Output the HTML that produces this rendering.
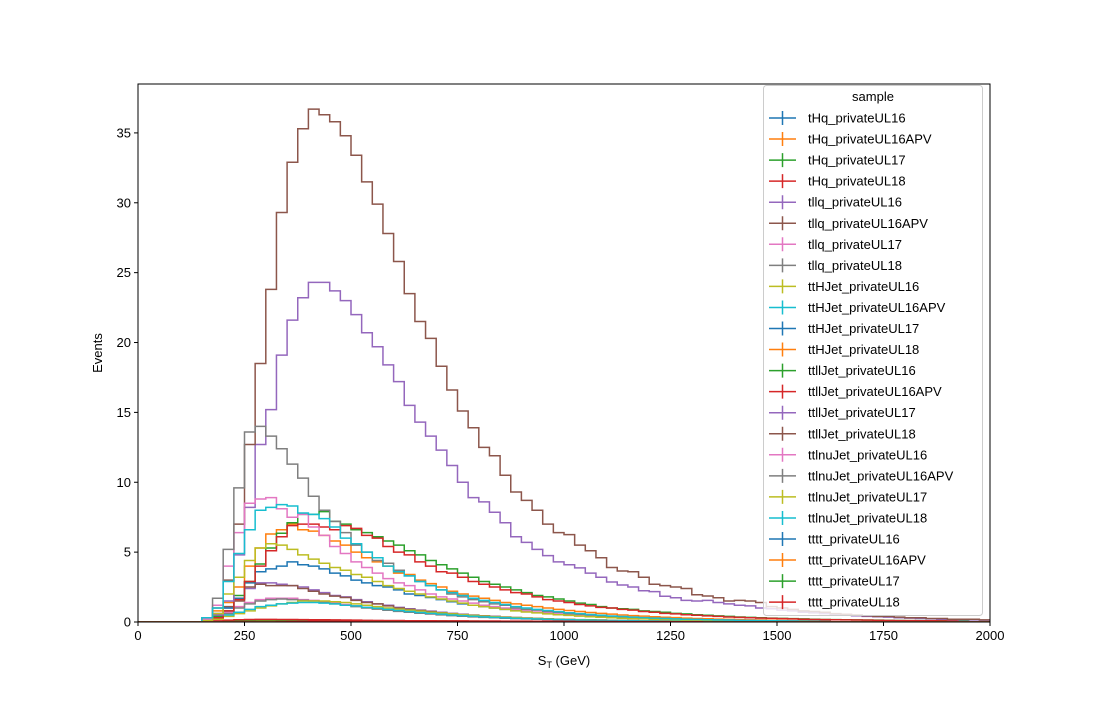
<!DOCTYPE html>
<html><head><meta charset="utf-8"><style>
body{margin:0;background:#fff;}
svg text{font-family:"Liberation Sans","DejaVu Sans",sans-serif;fill:#000;}
</style></head><body>
<svg id="chart" width="1100" height="700" xmlns="http://www.w3.org/2000/svg">
<rect width="1100" height="700" fill="#fff"/>
<defs><clipPath id="plotclip"><rect x="138" y="84" width="852" height="538"/></clipPath></defs>
<g id="series" clip-path="url(#plotclip)"></g>
<rect x="138" y="84" width="852" height="538" fill="none" stroke="#000" stroke-width="1"/>
<g id="xticks"></g><g id="yticks"></g>
<text x="564" y="665" font-size="13" text-anchor="middle">S<tspan font-size="9" dy="3">T</tspan><tspan dy="-3"> (GeV)</tspan></text>
<text x="102" y="353" font-size="13" text-anchor="middle" transform="rotate(-90 102 353)">Events</text>
<g id="legend"></g>
</svg>
<script>
const binEdgesStart = 0, binWidth = 25, nBins = 80;
const xTicks = [0,250,500,750,1000,1250,1500,1750,2000];
const yTicks = [0,5,10,15,20,25,30,35];
const seriesNames = ["tHq_privateUL16","tHq_privateUL16APV","tHq_privateUL17","tHq_privateUL18","tllq_privateUL16","tllq_privateUL16APV","tllq_privateUL17","tllq_privateUL18","ttHJet_privateUL16","ttHJet_privateUL16APV","ttHJet_privateUL17","ttHJet_privateUL18","ttllJet_privateUL16","ttllJet_privateUL16APV","ttllJet_privateUL17","ttllJet_privateUL18","ttlnuJet_privateUL16","ttlnuJet_privateUL16APV","ttlnuJet_privateUL17","ttlnuJet_privateUL18","tttt_privateUL16","tttt_privateUL16APV","tttt_privateUL17","tttt_privateUL18"];
const colors = ['#1f77b4','#ff7f0e','#2ca02c','#d62728','#9467bd','#8c564b','#e377c2','#7f7f7f','#bcbd22','#17becf'];

const tHq_UL16 = [0,0,0,0,0,0,0.02,0.05,0.08,0.1,0.11,0.12,0.12,0.12,0.11,0.11,0.1,0.1,0.09,0.09,0.08,0.08,0.07,0.07,0.06,0.06,0.05,0.05,0.05,0.04,0.04,0.04,0.03,0.03,0.03,0.03,0.02,0.02,0.02,0.02,0.02];
const tHq_UL16APV = [0,0,0,0,0,0,0.02,0.04,0.07,0.09,0.1,0.1,0.11,0.1,0.1,0.1,0.09,0.09,0.08,0.08,0.07,0.07,0.06,0.06,0.05,0.05,0.05,0.04,0.04,0.04,0.03,0.03,0.03,0.03,0.02,0.02,0.02,0.02,0.02];
const tHq_UL17 = [0,0,0,0,0,0,0.03,0.06,0.1,0.12,0.13,0.14,0.14,0.13,0.13,0.12,0.12,0.11,0.1,0.1,0.09,0.09,0.08,0.07,0.07,0.06,0.06,0.05,0.05,0.05,0.04,0.04,0.04,0.03,0.03,0.03,0.02,0.02,0.02,0.02,0.02];
const tHq_UL18 = [0,0,0,0,0,0,0.04,0.08,0.13,0.16,0.18,0.19,0.19,0.18,0.18,0.17,0.16,0.16,0.15,0.14,0.13,0.12,0.11,0.1,0.1,0.09,0.08,0.08,0.07,0.06,0.06,0.05,0.05,0.05,0.04,0.04,0.03,0.03,0.03,0.03,0.02];
const tllq_UL16 = [0,0,0,0,0,0,0.1,0.5,1.0,1.7,2.4,2.8,2.8,2.7,2.6,2.5,2.3,2.1,1.9,1.8,1.6,1.45,1.3,1.2,1.05,0.95,0.85,0.78,0.7,0.62,0.55,0.5,0.45,0.4,0.36,0.32,0.29,0.26,0.23,0.21,0.19,0.17,0.15,0.14,0.12,0.11,0.1,0.09,0.08,0.07,0.07,0.06,0.05,0.05,0.04,0.04];
const tllq_UL16APV = [0,0,0,0,0,0,0.1,0.6,1.1,1.5,2.5,2.7,2.6,2.6,2.6,2.4,2.2,2.0,1.85,1.75,1.55,1.4,1.3,1.15,1.0,0.9,0.82,0.74,0.66,0.6,0.54,0.48,0.43,0.39,0.35,0.31,0.28,0.25,0.22,0.2,0.18,0.16,0.15,0.13,0.12,0.11,0.1,0.09,0.08,0.07,0.06,0.06,0.05,0.05,0.04];
const tllq_UL17 = [0,0,0,0,0,0,0.1,0.4,0.7,1.1,1.4,1.6,1.7,1.7,1.7,1.6,1.55,1.45,1.35,1.25,1.15,1.05,0.95,0.87,0.8,0.72,0.65,0.58,0.52,0.47,0.42,0.38,0.34,0.3,0.27,0.24,0.22,0.2,0.18,0.16,0.14,0.13,0.12,0.11,0.1,0.09,0.08,0.07,0.06,0.06,0.05,0.05,0.04];
const tllq_UL18 = [0,0,0,0,0,0,0.1,0.3,0.6,1.0,1.3,1.5,1.6,1.65,1.6,1.55,1.5,1.4,1.3,1.2,1.1,1.0,0.92,0.84,0.76,0.7,0.63,0.57,0.51,0.46,0.41,0.37,0.33,0.3,0.27,0.24,0.22,0.2,0.18,0.16,0.14,0.13,0.12,0.11,0.1,0.09,0.08,0.07,0.06,0.06,0.05,0.05];
const ttHJet_UL16 = [0,0,0,0,0,0,0.05,0.2,0.4,0.6,0.8,1.0,1.15,1.3,1.4,1.5,1.5,1.5,1.45,1.4,1.3,1.2,1.1,1.0,0.92,0.85,0.78,0.7,0.64,0.58,0.52,0.47,0.42,0.38,0.34,0.31,0.28,0.25,0.22,0.2,0.18,0.16,0.15,0.13,0.12,0.11,0.1,0.09,0.08,0.07,0.06,0.06,0.05,0.05];
const ttHJet_UL16APV = [0,0,0,0,0,0,0.3,0.4,0.5,0.7,0.9,1.1,1.2,1.3,1.35,1.4,1.4,1.35,1.3,1.2,1.15,1.05,0.98,0.9,0.82,0.75,0.68,0.62,0.56,0.5,0.46,0.41,0.37,0.33,0.3,0.27,0.24,0.22,0.2,0.18,0.16,0.14,0.13,0.12,0.11,0.1,0.09,0.08,0.07,0.06,0.05,0.05];
const ttHJet_UL17 = [0,0,0,0,0,0,0.2,0.6,1.0,1.7,2.8,3.6,3.8,4.0,4.3,4.1,4.0,3.8,3.5,3.3,3.0,2.8,2.6,2.5,2.3,2.0,1.9,1.75,1.6,1.45,1.3,1.2,1.1,1.0,0.9,0.82,0.75,0.68,0.62,0.56,0.5,0.46,0.42,0.38,0.34,0.31,0.28,0.25,0.23,0.21,0.19,0.17,0.15,0.14,0.12,0.11,0.1,0.09,0.08,0.07,0.06,0.06,0.05];
const ttHJet_UL18 = [0,0,0,0,0,0,0.2,0.8,1.4,2.5,4.0,5.3,6.3,6.6,7.0,6.6,6.5,6.2,5.8,5.5,5.0,4.6,4.3,4.0,3.5,3.4,3.0,2.75,2.5,2.2,2.0,1.85,1.7,1.55,1.4,1.3,1.2,1.1,1.0,0.9,0.82,0.75,0.68,0.62,0.56,0.5,0.46,0.42,0.38,0.34,0.31,0.28,0.25,0.23,0.21,0.19,0.17,0.15,0.14,0.12,0.11,0.1,0.09,0.08,0.07];
const ttllJet_UL16 = [0,0,0,0,0,0,0.1,0.4,0.8,1.9,2.9,4.15,5.3,6.35,7.1,7.7,7.7,7.9,7.2,7.0,6.6,6.4,6.1,5.8,5.5,5.1,4.8,4.4,4.1,3.8,3.5,3.2,2.9,2.7,2.5,2.3,2.1,1.9,1.8,1.65,1.5,1.35,1.25,1.1,1.0,0.95,0.9,0.8,0.75,0.7,0.62,0.58,0.52,0.48,0.44,0.4,0.36,0.33,0.3,0.28,0.26,0.24,0.22,0.2,0.18,0.17,0.16,0.15,0.14,0.13,0.12,0.11,0.1,0.1,0.09,0.09,0.08,0.08];
const ttllJet_UL16APV = [0,0,0,0,0,0,0.1,0.3,0.8,1.6,2.9,4.0,5.1,6.1,6.9,7.0,7.0,6.8,6.6,6.9,6.7,6.2,6.0,5.4,5.0,4.8,4.3,4.0,3.6,3.5,3.2,2.9,2.7,2.5,2.3,2.1,2.0,1.8,1.6,1.5,1.4,1.25,1.15,1.05,1.0,0.9,0.85,0.75,0.7,0.62,0.58,0.52,0.48,0.44,0.4,0.36,0.33,0.3,0.28,0.26,0.24,0.22,0.2,0.18,0.17,0.16,0.15,0.14,0.13,0.12,0.11,0.1,0.1,0.09,0.09,0.08,0.08];
const ttllJet_UL17 = [0,0,0,0,0,0,0.1,0.5,1.5,4.8,8.2,12.7,15.2,19.1,21.6,23.2,24.3,24.3,23.7,23.0,22.0,20.7,19.7,18.4,17.2,15.5,14.3,13.3,12.3,11.2,10.0,8.9,8.6,7.85,7.1,6.1,5.7,5.2,4.75,4.3,4.1,3.87,3.5,3.2,2.86,2.65,2.5,2.24,2.17,1.84,1.74,1.55,1.5,1.55,1.4,1.3,1.2,1.15,1.0,0.95,0.85,0.8,0.7,0.65,0.6,0.55,0.5,0.45,0.4,0.38,0.35,0.3,0.28,0.25,0.22,0.2,0.18,0.16,0.15,0.13];
const ttllJet_UL18 = [0,0,0,0,0,0,0.1,1.0,3.0,7.0,12.7,18.5,23.8,29.3,32.9,35.3,36.7,36.3,35.8,34.8,33.4,31.5,29.9,27.8,25.8,23.5,21.5,20.3,18.3,16.6,15.1,13.9,12.5,11.9,10.5,9.3,8.7,8.0,7.0,6.4,6.25,5.5,5.1,4.6,3.9,3.65,3.6,3.2,2.7,2.6,2.5,2.4,1.95,1.86,1.74,1.5,1.55,1.5,1.4,1.1,1.0,0.9,0.8,0.75,0.7,0.6,0.55,0.5,0.45,0.4,0.4,0.35,0.3,0.3,0.25,0.25,0.2,0.2,0.2,0.15];
const ttlnuJet_UL16 = [0,0,0,0,0,0,0.2,1.2,4.0,6.4,8.5,8.8,8.9,8.1,7.5,7.7,6.8,6.2,5.4,4.9,4.3,3.9,3.5,3.1,2.8,2.6,2.3,2.0,1.8,1.65,1.5,1.35,1.2,1.1,1.0,0.9,0.8,0.72,0.65,0.58,0.52,0.47,0.42,0.38,0.34,0.3,0.27,0.24,0.22,0.2,0.18,0.16,0.14,0.13,0.12,0.11,0.1,0.09,0.08,0.07,0.06,0.06,0.05,0.05];
const ttlnuJet_UL16APV = [0,0,0,0,0,0,0.3,1.7,5.2,9.6,13.6,14.0,13.3,12.4,11.3,10.3,9.0,8.0,7.2,6.4,5.5,5.0,4.4,4.2,3.7,3.3,2.9,2.6,2.3,2.0,1.8,1.6,1.45,1.3,1.2,1.0,0.9,0.85,0.75,0.7,0.6,0.55,0.5,0.45,0.4,0.35,0.32,0.3,0.27,0.25,0.22,0.2,0.18,0.16,0.15,0.14,0.12,0.11,0.1,0.09,0.08,0.07,0.06,0.05,0.05];
const ttlnuJet_UL17 = [0,0,0,0,0,0,0.1,0.6,2.0,3.2,4.4,5.3,5.6,5.5,5.2,4.8,4.5,4.2,3.9,3.7,3.4,3.2,2.9,2.6,2.4,2.2,2.0,1.8,1.65,1.5,1.35,1.2,1.1,1.0,0.9,0.8,0.72,0.65,0.58,0.52,0.47,0.42,0.38,0.34,0.3,0.27,0.24,0.22,0.2,0.18,0.16,0.14,0.13,0.12,0.11,0.1,0.09,0.08,0.07,0.06,0.05];
const ttlnuJet_UL18 = [0,0,0,0,0,0,0.3,1.0,2.9,4.9,6.6,8.0,8.2,8.4,8.3,7.8,7.7,7.4,6.8,6.0,5.6,5.0,4.6,4.0,3.6,3.3,2.9,2.6,2.3,2.1,1.9,1.7,1.55,1.4,1.25,1.1,1.0,0.9,0.82,0.74,0.66,0.6,0.54,0.48,0.43,0.39,0.35,0.31,0.28,0.25,0.22,0.2,0.18,0.16,0.14,0.13,0.12,0.11,0.1,0.09,0.08,0.07,0.06,0.05];
const tttt_UL16 = [0,0,0,0,0,0,0,0,0,0,0,0,0,0,0.02,0.03,0.04,0.05,0.06,0.06,0.07,0.07,0.07,0.07,0.07,0.07,0.06,0.06,0.06,0.06,0.05,0.05,0.05,0.05,0.04,0.04,0.04,0.04,0.03,0.03,0.03,0.03,0.03,0.02,0.02,0.02,0.02,0.02,0.02,0.02];
const tttt_UL16APV = [0,0,0,0,0,0,0,0,0,0,0,0,0,0,0.02,0.03,0.04,0.04,0.05,0.05,0.06,0.06,0.06,0.06,0.06,0.06,0.05,0.05,0.05,0.05,0.05,0.04,0.04,0.04,0.04,0.03,0.03,0.03,0.03,0.03,0.02,0.02,0.02,0.02,0.02,0.02];
const tttt_UL17 = [0,0,0,0,0,0,0,0,0,0,0,0,0,0.01,0.02,0.04,0.05,0.06,0.07,0.08,0.08,0.08,0.08,0.08,0.08,0.07,0.07,0.07,0.07,0.06,0.06,0.06,0.05,0.05,0.05,0.05,0.04,0.04,0.04,0.04,0.03,0.03,0.03,0.03,0.02,0.02,0.02,0.02,0.02];
const tttt_UL18 = [0,0,0,0,0,0,0,0,0,0,0,0,0,0.01,0.03,0.04,0.06,0.07,0.08,0.09,0.09,0.1,0.1,0.1,0.1,0.09,0.09,0.09,0.08,0.08,0.08,0.07,0.07,0.07,0.06,0.06,0.06,0.05,0.05,0.05,0.05,0.04,0.04,0.04,0.04,0.03,0.03,0.03,0.03,0.03,0.02,0.02,0.02];

const seriesValues = [tHq_UL16,tHq_UL16APV,tHq_UL17,tHq_UL18,tllq_UL16,tllq_UL16APV,tllq_UL17,tllq_UL18,ttHJet_UL16,ttHJet_UL16APV,ttHJet_UL17,ttHJet_UL18,ttllJet_UL16,ttllJet_UL16APV,ttllJet_UL17,ttllJet_UL18,ttlnuJet_UL16,ttlnuJet_UL16APV,ttlnuJet_UL17,ttlnuJet_UL18,tttt_UL16,tttt_UL16APV,tttt_UL17,tttt_UL18];

const NS = 'http://www.w3.org/2000/svg';
const X0 = 138, X1 = 990, Y0 = 622, Y1 = 84;
const xMin = 0, xMax = 2000, yMin = 0, yMax = 38.5;
function xScale(v){ return X0 + (v - xMin) / (xMax - xMin) * (X1 - X0); }
function yScale(v){ return Y0 - (v - yMin) / (yMax - yMin) * (Y0 - Y1); }

const gS = document.getElementById('series');
seriesValues.forEach((vals, s) => {
  let d = '';
  for (let i = 0; i < nBins; i++) {
    const v = i < vals.length ? vals[i] : 0;
    const xa = xScale(binEdgesStart + i * binWidth), xb = xScale(binEdgesStart + (i + 1) * binWidth);
    d += (i === 0 ? 'M' : 'L') + xa.toFixed(2) + ',' + yScale(v).toFixed(2) + 'L' + xb.toFixed(2) + ',' + yScale(v).toFixed(2);
  }
  const p = document.createElementNS(NS, 'path');
  p.setAttribute('d', d);
  p.setAttribute('fill', 'none');
  p.setAttribute('stroke', colors[s % 10]);
  p.setAttribute('stroke-width', '1.5');
  
  
  gS.appendChild(p);
});

const gx = document.getElementById('xticks');
xTicks.forEach(t => {
  const x = xScale(t);
  const l = document.createElementNS(NS, 'line');
  l.setAttribute('x1', x); l.setAttribute('x2', x); l.setAttribute('y1', Y0); l.setAttribute('y2', Y0 + 4);
  l.setAttribute('stroke', '#000');
  
  
  gx.appendChild(l);
  const tx = document.createElementNS(NS, 'text');
  tx.setAttribute('x', x); tx.setAttribute('y', Y0 + 18); tx.setAttribute('font-size', '13'); tx.setAttribute('text-anchor', 'middle');
  tx.textContent = t;
  
  
  gx.appendChild(tx);
});
const gy = document.getElementById('yticks');
yTicks.forEach(t => {
  const y = yScale(t);
  const l = document.createElementNS(NS, 'line');
  l.setAttribute('x1', X0 - 4); l.setAttribute('x2', X0); l.setAttribute('y1', y); l.setAttribute('y2', y);
  l.setAttribute('stroke', '#000');
  
  
  gy.appendChild(l);
  const tx = document.createElementNS(NS, 'text');
  tx.setAttribute('x', X0 - 7); tx.setAttribute('y', y + 4.5); tx.setAttribute('font-size', '13'); tx.setAttribute('text-anchor', 'end');
  tx.textContent = t;
  
  
  gy.appendChild(tx);
});

const gL = document.getElementById('legend');
const box = document.createElementNS(NS, 'rect');
box.setAttribute('x', 763.5); box.setAttribute('y', 85.5); box.setAttribute('width', 219); box.setAttribute('height', 530);
box.setAttribute('rx', 3); box.setAttribute('fill', 'rgba(255,255,255,0.8)'); box.setAttribute('stroke', '#ccc');


gL.appendChild(box);
const title = document.createElementNS(NS, 'text');
title.setAttribute('x', 873); title.setAttribute('y', 101); title.setAttribute('font-size', '13'); title.setAttribute('text-anchor', 'middle');
title.textContent = 'sample';


gL.appendChild(title);
seriesNames.forEach((n, s) => {
  const y = 118 + s * 21.05;
  const g = document.createElementNS(NS, 'g');
  
  
  const h = document.createElementNS(NS, 'path');
  h.setAttribute('d', `M769,${y}H796M782.5,${y-7}V${y+7}`);
  h.setAttribute('stroke', colors[s % 10]); h.setAttribute('stroke-width', '1.5'); h.setAttribute('fill', 'none');
  g.appendChild(h);
  const tx = document.createElementNS(NS, 'text');
  tx.setAttribute('x', 808); tx.setAttribute('y', y + 4.5); tx.setAttribute('font-size', '13');
  tx.textContent = n;
  g.appendChild(tx);
  gL.appendChild(g);
});
</script>
</body></html>
